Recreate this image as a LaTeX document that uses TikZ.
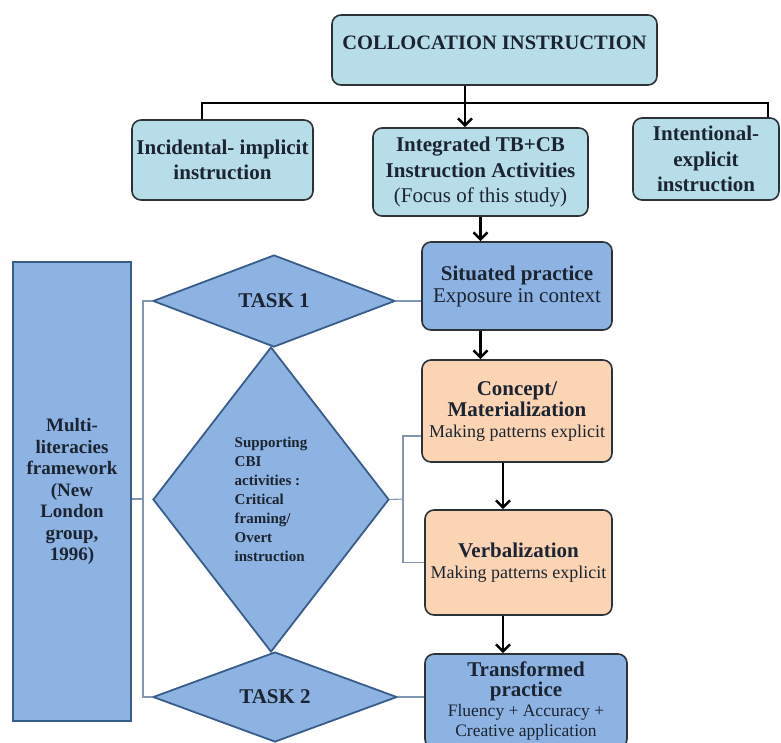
\documentclass[tikz,border=0pt]{standalone}
\usepackage{fontspec}
\setmainfont{Liberation Serif}
\usepackage{tikz}
\usetikzlibrary{arrows.meta,shapes.geometric}

\definecolor{boxteal}{HTML}{B7DDE8}
\definecolor{boxblue}{HTML}{8DB3E2}
\definecolor{boxpeach}{HTML}{FBD4B4}
\definecolor{edgedark}{HTML}{2B3238}
\definecolor{edgeblue}{HTML}{385D8A}
\definecolor{linkgrey}{HTML}{7F97B2}
\definecolor{inkdark}{HTML}{1B2430}

\begin{document}
\begin{tikzpicture}[x=1pt,y=-1pt,
  every node/.style={text=inkdark,align=center,inner sep=2pt},
  tealbox/.style={draw=edgedark,line width=1.6pt,fill=boxteal,rounded corners=9pt,
    font=\fontsize{21}{25.5}\selectfont\bfseries},
  bluebox/.style={draw=edgedark,line width=1.6pt,fill=boxblue,rounded corners=9pt,
    font=\fontsize{21}{22}\selectfont\bfseries},
  peachbox/.style={draw=edgedark,line width=1.6pt,fill=boxpeach,rounded corners=9pt,
    font=\fontsize{21}{21}\selectfont\bfseries},
  taskdiam/.style={diamond,draw=edgeblue,line width=1.8pt,fill=boxblue,inner sep=0pt,
    font=\fontsize{21}{22}\selectfont\bfseries},
  conn/.style={line width=2.6pt},
  arr/.style={line width=2.6pt,-{Straight Barb[length=7pt,width=14pt]}},
  link/.style={draw=linkgrey,line width=1.1pt}]
\useasboundingbox (0,0) rectangle (781,742);
\clip (0,0) rectangle (781,742);

\node[tealbox,minimum width=325pt,minimum height=70pt,text depth=14pt,font=\fontsize{20.5}{24}\selectfont\bfseries] (colloc) at (494.5,50) {COLLOCATION INSTRUCTION};
\node[tealbox,minimum width=181pt,minimum height=80pt] (incid) at (222.5,160) {Incidental- implicit\\instruction};
\node[tealbox,minimum width=215pt,minimum height=88pt] (integ) at (480.5,172) {Integrated TB+CB\\Instruction Activities\\\mdseries (Focus of this study)};
\node[tealbox,minimum width=146pt,minimum height=82pt] (intent) at (706,159) {Intentional-\\explicit\\instruction};

\node[bluebox,minimum width=190pt,minimum height=88pt] (situated) at (517,286) {Situated practice\\\mdseries Exposure in context};
\node[peachbox,minimum width=190pt,minimum height=102pt] (concept) at (517,411) {Concept/\\Materialization\\\mdseries\fontsize{18}{20}\selectfont Making patterns explicit};
\node[peachbox,minimum width=187pt,minimum height=105pt] (verbal) at (518.5,562.5) {Verbalization\\\mdseries\fontsize{18}{20}\selectfont Making patterns explicit};
\node[bluebox,minimum width=202pt,minimum height=94pt,font=\fontsize{21}{20}\selectfont\bfseries] (transf) at (526,701) {Transformed\\practice\\\mdseries\fontsize{17.5}{16}\selectfont Fluency + Accuracy +\\\mdseries\fontsize{17.5}{16}\selectfont Creative application};

\node[draw=edgeblue,line width=2.4pt,fill=boxblue,minimum width=118pt,minimum height=459pt,
  font=\fontsize{19}{21.5}\selectfont\bfseries] (multi) at (72,491.5) {Multi-\\literacies\\framework\\(New\\London\\group,\\1996)};

\node[taskdiam,minimum width=242pt,minimum height=92pt] (task1) at (274,301) {TASK 1};
\node[taskdiam,minimum width=236pt,minimum height=305pt,align=left,
  font=\fontsize{15}{19}\selectfont\bfseries] (support) at (271,499.5) {Supporting\\CBI\\activities :\\Critical\\framing/\\Overt\\instruction};
\node[taskdiam,minimum width=244pt,minimum height=90pt] (task2) at (275,697) {TASK 2};

\coordinate (hub) at (465,103);
\coordinate (lt) at (202,103);
\coordinate (rt) at (768,103);
\coordinate (axis) at (503,0);
\coordinate (lb) at (143,499);
\coordinate (rb) at (403,499);

\draw[conn] (lt |- incid.north) -- (lt) -- (rt) -- (rt |- intent.north);
\draw[arr] (hub |- colloc.south) -- (hub |- integ.north);
\draw[arr] (integ.south) -- (integ.south |- situated.north);
\draw[arr] (situated.south -| integ.south) -- (concept.north -| integ.south);
\draw[arr] (axis |- concept.south) -- (axis |- verbal.north);
\draw[arr] (axis |- verbal.south) -- (axis |- transf.north);

\draw[link] (task1.west) -| (lb) |- (task2.west);
\draw[link] (multi.east |- lb) -- (lb);
\draw[link] (task1.east) -- (task1.east -| situated.west);
\draw[link] (support.east) -- (rb);
\draw[link] ([yshift=-25pt]concept.west) -| (rb) |- (verbal.west);
\draw[link] (task2.east) -- (task2.east -| transf.west);
\end{tikzpicture}
\end{document}
